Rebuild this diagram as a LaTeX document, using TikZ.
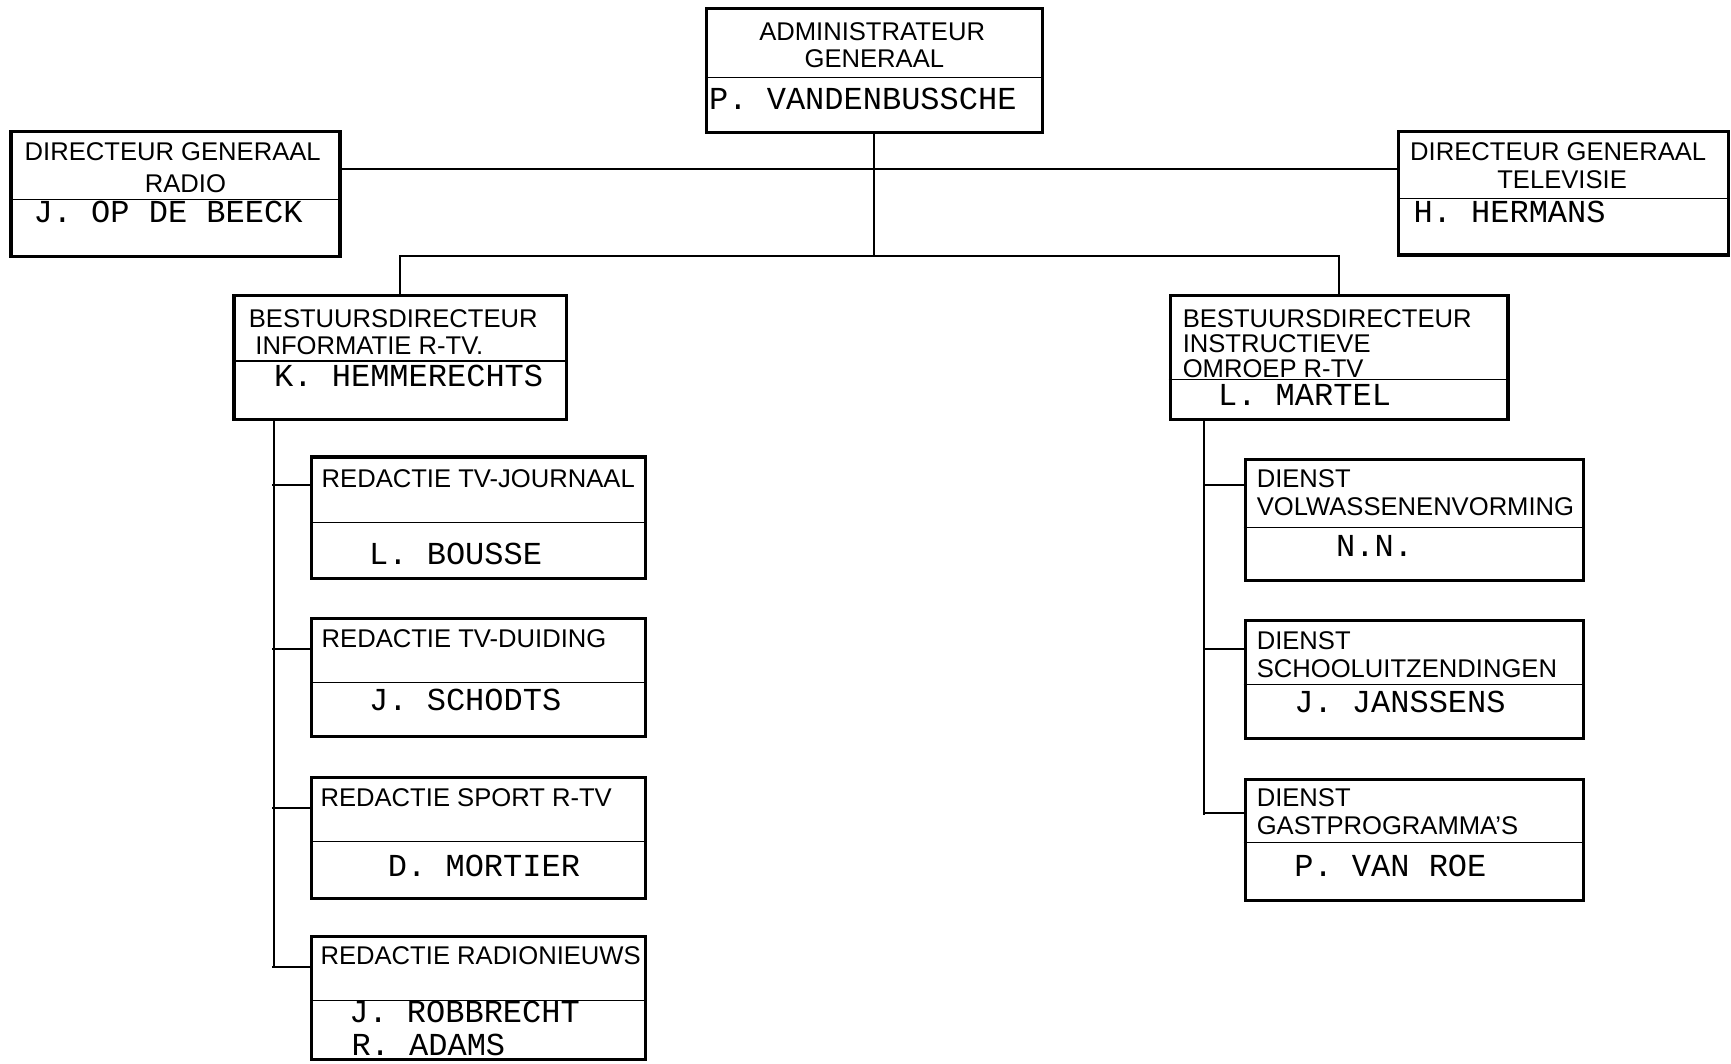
\documentclass[tikz,border=0pt]{standalone}
\usepackage{fontspec}
\setmainfont{Liberation Sans}
\setmonofont{Liberation Mono}
\usetikzlibrary{calc,positioning}
\tikzset{%
  box/.style  = {draw,rectangle,line width=1.4pt,inner sep=0pt,minimum width=151pt},
  sep/.style  = {draw,line width=.6pt},
  line/.style = {draw,line width=.9pt}
}
\begin{document}
\begin{tikzpicture}[x=.5pt,y=-.5pt,%
                    t/.style={inner sep=0pt,text height=8.2pt,text depth=0pt,%
                    font=\fontsize{11.6}{13}\selectfont},%
                    n/.style={inner sep=0pt,text height=9pt,text depth=0pt,%
                    font=\ttfamily\fontsize{14.5}{16}\selectfont}]
  \useasboundingbox (0,0) rectangle (1568,963);
  % boxes
  \node[box,minimum width=152pt,minimum height=56pt] (adm) at (792,64) {};
  \node[box,minimum width=149pt,minimum height=56.5pt] (dgr) at (159,175.5) {};
  \node[box,minimum width=149.5pt,minimum height=56pt] (dgt) at (1416.5,175) {};
  \node[box,minimum width=150.5pt,minimum height=56pt] (bdi) at (362.5,324) {};
  \node[box,minimum width=153pt,minimum height=56pt] (bdo) at (1213,324) {};
  \node[box,minimum height=55pt] (rj) at (433.5,469) {};
  \node[box,minimum height=53.5pt] (rd) at (433.5,613.5) {};
  \node[box,minimum height=55pt] (rs) at (433.5,759) {};
  \node[box,minimum height=56pt] (rr) at (433.5,904) {};
  \node[box,minimum width=153pt,minimum height=55pt] (dv) at (1281,471) {};
  \node[box,minimum width=153pt,minimum height=53.5pt] (ds) at (1281,615.5) {};
  \node[box,minimum width=153pt,minimum height=55pt] (dg) at (1281,761) {};
  % separators
  \foreach \b/\y in {adm/70,dgr/181,dgt/180,bdi/327,bdo/344,rj/473,rd/618,%
                     rs/762,rr/906,dv/478,ds/620,dg/763}
    \draw[sep] (\b.west |- 0,\y) -- (\b.east |- 0,\y);
  % texts
  \node[t,anchor=base] (adm-1) at (790,36.5) {ADMINISTRATEUR};
  \node[t,anchor=base] (adm-2) at (792,61.5) {GENERAAL};
  \node[n,anchor=base west] (adm-3) at (642,99) {P. VANDENBUSSCHE};
  \node[t,anchor=base west] (dgr-1) at (22,145.5) {DIRECTEUR GENERAAL};
  \node[t,anchor=base] (dgr-2) at (168,174.5) {RADIO};
  \node[n,anchor=base west] (dgr-3) at (30,202) {J. OP DE BEECK};
  \node[t,anchor=base west] (dgt-1) at (1277,145.5) {DIRECTEUR GENERAAL};
  \node[t,anchor=base] (dgt-2) at (1415,170.5) {TELEVISIE};
  \node[n,anchor=base west] (dgt-3) at (1280,202) {H. HERMANS};
  \node[t,anchor=base west] (bdi-1) at (225,296.5) {BESTUURSDIRECTEUR};
  \node[t,anchor=base west] (bdi-2) at (231,321.5) {INFORMATIE R-TV.};
  \node[n,anchor=base west] (bdi-3) at (248,350) {K. HEMMERECHTS};
  \node[t,anchor=base west] (bdo-1) at (1071,297) {BESTUURSDIRECTEUR};
  \node[t,anchor=base west] (bdo-2) at (1071,319.5) {INSTRUCTIEVE};
  \node[t,anchor=base west] (bdo-3) at (1071,341.5) {OMROEP R-TV};
  \node[n,anchor=base west] (bdo-4) at (1103,367) {L. MARTEL};
  \node[t,anchor=base west] (rj-1) at (291,441.5) {REDACTIE TV-JOURNAAL};
  \node[n,anchor=base west] (rj-2) at (334,511) {L. BOUSSE};
  \node[t,anchor=base west] (rd-1) at (291,586.5) {REDACTIE TV-DUIDING};
  \node[n,anchor=base west] (rd-2) at (334,644) {J. SCHODTS};
  \node[t,anchor=base west] (rs-1) at (290,730.5) {REDACTIE SPORT R-TV};
  \node[n,anchor=base west] (rs-2) at (351,794) {D. MORTIER};
  \node[t,anchor=base west] (rr-1) at (290,873.5) {REDACTIE RADIONIEUWS};
  \node[n,anchor=base west] (rr-2) at (316,926) {J. ROBBRECHT};
  \node[n,anchor=base west] (rr-3) at (318,956) {R. ADAMS};
  \node[t,anchor=base west] (dv-1) at (1138,441.5) {DIENST};
  \node[t,anchor=base west] (dv-2) at (1138,466.5) {VOLWASSENENVORMING};
  \node[n,anchor=base west] (dv-3) at (1210,504) {N.N.};
  \node[t,anchor=base west] (ds-1) at (1138,588.5) {DIENST};
  \node[t,anchor=base west] (ds-2) at (1138,613.5) {SCHOOLUITZENDINGEN};
  \node[n,anchor=base west] (ds-3) at (1172,645) {J. JANSSENS};
  \node[t,anchor=base west] (dg-1) at (1138,730.5) {DIENST};
  \node[t,anchor=base west] (dg-2) at (1138,755.5) {GASTPROGRAMMA'S};
  \node[n,anchor=base west] (dg-3) at (1172,794) {P. VAN ROE};
  % connectors
  \coordinate (mid) at (adm.south |- 0,232);
  \coordinate (lsp) at (248,877);
  \coordinate (rsp) at (1091,738);
  \draw[line] (adm.south) -- (mid);
  \draw[line] (dgr.east |- 0,153) -- (dgt.west |- 0,153);
  \draw[line] (bdi.north) -- (bdi.north |- mid) -- (bdo.north |- mid) -- (bdo.north);
  \draw[line] (bdi.south -| lsp) -- (lsp);
  \draw[line] (bdo.south -| rsp) -- (rsp);
  \foreach \b/\d in {rj/27,rd/29,rs/29,rr/29}
    \draw[line] ($(\b.north west)+(0,\d)$) -- ($(\b.north west)+(-35,\d)$);
  \foreach \b/\d in {dv/25,ds/27,dg/32}
    \draw[line] ($(\b.north west)+(0,\d)$) -- ($(\b.north west)+(-37,\d)$);
\end{tikzpicture}
\end{document}
